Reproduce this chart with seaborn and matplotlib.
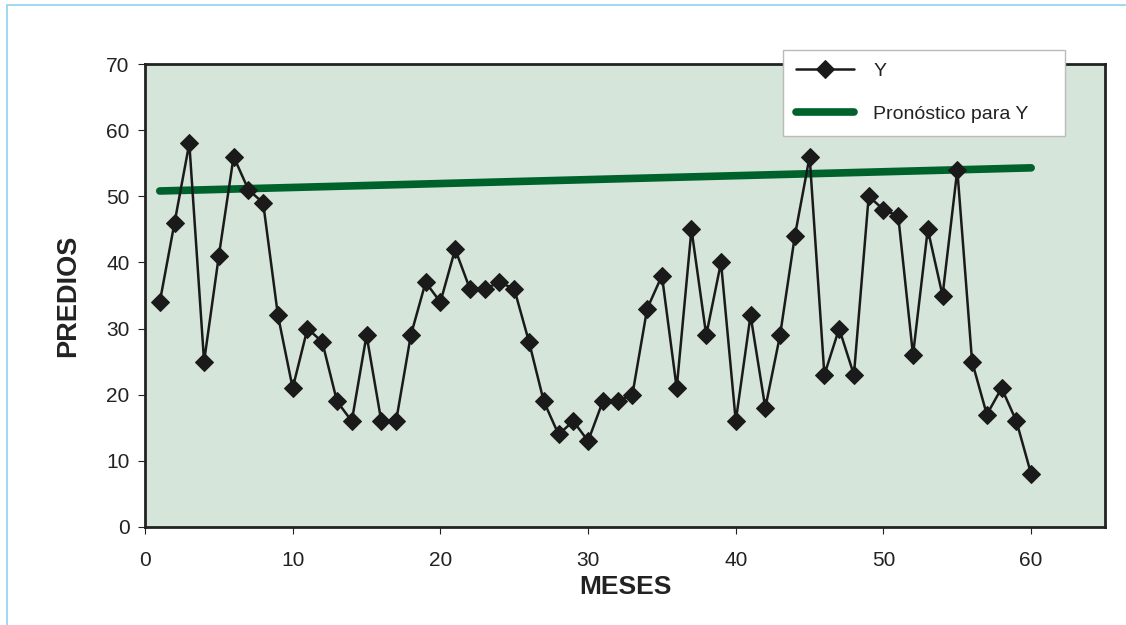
import matplotlib
matplotlib.use("Agg")
import matplotlib.pyplot as plt
from matplotlib.patches import Rectangle
import seaborn as sns
import pandas as pd

meses = list(range(1, 61))
predios = [34, 46, 58, 25, 41, 56, 51, 49, 32, 21,
           30, 28, 19, 16, 29, 16, 16, 29, 37, 34,
           42, 36, 36, 37, 36, 28, 19, 14, 16, 13,
           19, 19, 20, 33, 38, 21, 45, 29, 40, 16,
           32, 18, 29, 44, 56, 23, 30, 23, 50, 48,
           47, 26, 45, 35, 54, 25, 17, 21, 16, 8]
pron_x = [1, 60]
pron_y = [50.8, 54.3]
xticks = [0, 10, 20, 30, 40, 50, 60]
yticks = [0, 10, 20, 30, 40, 50, 60, 70]

sns.set_theme(style="white")
plt.rcParams['font.family'] = ['Liberation Sans', 'DejaVu Sans']

fig = plt.figure(figsize=(11.26, 6.25), dpi=100)
W, H = 1126, 625
ax = fig.add_axes([145 / W, 1 - 527 / H, (1105 - 145) / W, (527 - 64) / H])
ax.set_facecolor('#d6e5da')

df = pd.DataFrame({'MESES': meses, 'PREDIOS': predios})
dfp = pd.DataFrame({'MESES': pron_x, 'PREDIOS': pron_y})

sns.lineplot(data=dfp, x='MESES', y='PREDIOS', ax=ax, color='#00622b',
             linewidth=5.5, solid_capstyle='round', label='Pronóstico para Y',
             zorder=2)
sns.lineplot(data=df, x='MESES', y='PREDIOS', ax=ax, color='#1a1a1a',
             linewidth=1.8, marker='D', markersize=9.5, markeredgecolor='#1a1a1a',
             label='Y', zorder=3)

ax.set_xlim(0, 65)
ax.set_ylim(0, 70)
ax.set_xticks(xticks)
ax.set_yticks(yticks)
ax.tick_params(axis='both', labelsize=15, colors='#222222', length=5,
               direction='out', bottom=True, left=True, width=0.8)
ax.tick_params(axis='x', pad=12)
ax.tick_params(axis='y', pad=6)
for tl in ax.get_xticklabels() + ax.get_yticklabels():
    tl.set_color('#222222')
for s in ax.spines.values():
    s.set_color('#222222')
    s.set_linewidth(2)

ax.set_xlabel('MESES', fontsize=19, fontweight='bold', color='#222222', labelpad=4)
ax.set_ylabel('PREDIOS', fontsize=19.5, fontweight='bold', color='#222222', labelpad=18)

handles, labels = ax.get_legend_handles_labels()
order = [labels.index('Y'), labels.index('Pronóstico para Y')]
x0 = (783 - 145) / 960
w = (1065 - 783) / 960
top = 1 + 14 / 463
h = 80 / 463
ax.legend([handles[i] for i in order], [labels[i] for i in order],
          loc='upper left', bbox_to_anchor=(x0, top - h, w, h), mode='expand',
          frameon=True, fancybox=False, edgecolor='#bbbbbb', facecolor='white',
          framealpha=1, fontsize=14, handlelength=3.0, borderpad=0.65,
          labelspacing=1.3, handletextpad=1.0, borderaxespad=0)
leg = ax.get_legend()
leg.get_frame().set_linewidth(1)
leg.set_zorder(5)
for t in leg.get_texts():
    t.set_color('#222222')

fig.patches.append(Rectangle((7 / W, -0.1), 1.2, 1 - 5 / H + 0.1, transform=fig.transFigure,
                             fill=False, edgecolor='#8fd3ee', linewidth=1.2, zorder=0))

fig.savefig('out.png', dpi=100, facecolor='white')
